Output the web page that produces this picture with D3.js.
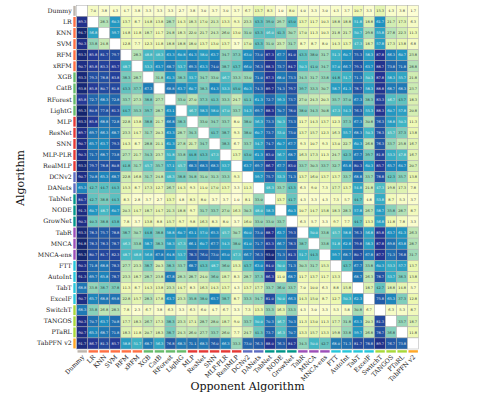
<!DOCTYPE html>
<html>
<head>
<meta charset="utf-8">
<script src="https://cdn.jsdelivr.net/npm/d3@7"></script>
<style>
  body { margin: 0; background: #fff; }
  text { font-family: "DejaVu Serif", serif; }
  .axis path, .axis line { display: none; }
</style>
</head>
<body>
<div id="chart"></div>
<script>
var algorithms = ["Dummy", "LR", "KNN", "SVM", "RFM", "xRFM", "XGB", "CatB", "RForest", "LightG", "MLP",
  "ResNet", "SNN", "MLP-PLR", "RealMLP", "DCNv2", "DANets", "TabNet", "NODE", "GrowNet", "TabR", "MNCA", "MNCA-ens",
  "FTT", "AutoInt", "TabT", "ExcelF", "SwitchT", "TANGOS", "PTaRL", "TabPFN v2"]

var families = ["base", "classic", "classic", "classic", "classic", "classic", "tree", "tree", "tree", "tree", "mlp",
  "mlp", "mlp", "mlp", "mlp", "cross", "cross", "neural", "neural", "neural", "retrieval", "retrieval", "retrieval",
  "attn", "attn", "attn", "attn", "reg", "reg", "reg", "pfn"]

var familyNames = ["base", "classic", "tree", "mlp", "cross", "neural", "retrieval", "attn", "reg", "pfn"]
var familyColors = ["#bdb5ad", "#ff7043", "#66bb6a", "#e53935", "#5c6bc0", "#009688", "#9c4fb8", "#26c6da", "#a8d93a", "#ffa726"]

// one row per algorithm, win rate in % against each opponent
var winRates = [
  [null,7.0,3.8,4.3,4.7,3.8,3.3,3.3,3.3,2.7,3.8, 3.0,3.7,3.0,3.7,6.7,13.7,8.3,1.0,8.0,4.0,3.3,3.0,4.3, 3.7,10.7,3.3,15.3,4.3,3.8,1.7],
  [89.3,null,28.3,60.3,13.7,8.7,14.8,13.8,28.7,14.3,18.3, 17.0,21.3,13.3,9.3,23.3,43.3,39.0,29.7,45.0,13.7,11.7,10.3,18.8, 18.8,51.8,18.8,61.7,21.7,17.3,6.3],
  [94.7,56.8,null,59.7,14.8,11.8,18.7,11.7,24.8,18.3,22.0, 21.7,24.3,26.0,13.0,31.0,43.3,46.0,41.3,30.7,17.0,11.3,10.3,21.8, 21.7,50.7,29.8,55.8,27.8,22.3,11.3],
  [90.3,33.8,24.8,null,12.8,7.7,12.3,11.8,18.8,18.8,18.0, 13.7,13.0,13.7,3.7,17.0,43.3,31.0,23.7,31.7,8.7,8.7,8.0,14.3, 13.7,47.3,18.7,57.8,17.3,13.8,6.8],
  [93.3,85.8,81.7,79.7,null,28.3,48.8,48.3,63.3,60.8,64.3, 58.0,63.7,34.7,37.3,63.0,73.0,87.3,67.7,81.0,43.3,38.0,31.7,51.3, 60.7,75.3,58.3,87.8,66.3,60.7,23.8],
  [90.7,85.8,83.3,85.7,48.7,null,53.3,63.7,68.7,53.7,69.3, 63.3,74.0,38.7,43.7,66.0,76.3,88.3,73.7,84.7,50.3,41.0,34.7,57.0, 66.7,79.3,63.7,88.7,73.8,71.8,28.8],
  [93.3,79.3,78.8,83.8,38.3,28.7,null,31.8,61.3,38.3,53.7, 34.7,33.0,46.7,33.3,33.0,71.0,87.3,68.0,73.3,34.3,31.7,33.8,44.8, 51.7,71.3,50.3,87.8,58.3,55.7,21.8],
  [93.8,85.8,80.7,81.8,43.3,37.7,67.3,null,68.8,63.7,60.7, 38.3,64.3,53.3,45.0,60.3,74.3,89.7,74.3,79.7,39.7,33.3,30.7,58.7, 61.3,78.7,58.3,88.8,68.7,68.3,23.7],
  [85.8,72.7,68.3,72.8,33.7,27.3,38.8,27.7,null,33.0,27.0, 37.3,41.3,33.3,24.7,41.1,61.3,72.7,59.3,73.7,27.0,24.3,20.3,35.7, 37.0,67.3,38.3,83.3,46.7,43.7,18.3],
  [95.3,80.8,77.8,81.3,44.7,35.3,39.7,28.7,63.1,null,46.7, 58.3,58.0,47.0,33.7,54.3,69.7,88.3,70.7,78.0,38.0,34.3,30.8,47.3, 54.3,76.3,55.3,88.3,60.7,57.8,20.8],
  [93.3,85.8,68.8,72.8,22.8,13.8,38.8,21.7,66.8,38.3,null, 33.0,34.7,33.7,8.0,38.0,56.3,73.3,50.3,73.3,11.7,14.3,13.7,12.3, 37.3,67.3,30.8,76.3,58.8,50.3,11.3],
  [89.7,69.7,66.3,68.7,23.3,14.7,31.7,20.3,63.3,28.7,34.3, null,41.7,38.7,9.3,38.0,60.7,73.7,53.0,73.0,13.7,15.7,12.3,16.3, 55.7,68.3,50.3,78.3,45.7,37.3,13.8],
  [90.7,65.7,63.7,79.3,14.3,8.7,28.8,21.1,61.3,27.8,21.7, 34.7,null,38.3,6.7,33.7,54.7,74.7,60.7,67.7,9.3,10.7,9.3,13.0, 22.7,60.3,26.8,76.3,33.7,25.8,16.7],
  [90.3,71.7,68.7,73.8,27.7,21.7,34.3,23.7,51.8,33.8,44.8, 43.3,47.3,null,13.7,43.0,61.3,83.0,56.7,68.7,16.3,17.3,11.3,24.7, 42.3,67.7,39.7,81.8,53.3,47.8,16.7],
  [93.3,79.7,78.8,80.8,41.8,31.7,45.7,35.7,57.1,45.7,68.3, 68.3,68.3,53.7,null,63.7,69.7,86.7,67.7,83.0,33.7,30.3,33.7,32.7, 65.8,80.3,60.3,85.7,65.7,64.7,20.7],
  [90.7,70.8,65.3,68.7,22.8,16.8,31.7,24.8,48.3,38.8,34.8, 31.0,31.3,33.3,9.3,null,59.7,75.7,53.3,71.3,13.7,16.0,13.7,13.7, 33.7,68.8,33.7,78.8,42.3,35.7,13.8],
  [65.3,42.7,44.7,44.3,15.3,8.7,17.3,12.7,26.7,14.3,9.3, 11.0,17.0,13.7,3.3,11.3,null,48.3,33.7,43.3,6.3,9.0,7.3,17.7, 13.7,54.8,21.8,47.3,19.8,17.3,7.8],
  [84.7,42.7,38.8,44.3,8.3,2.8,3.7,2.7,13.7,4.8,8.3, 8.0,3.7,3.7,1.0,8.1,33.0,null,13.7,41.7,4.3,3.3,4.3,7.3, 5.7,44.7,4.8,53.8,8.7,5.3,3.7],
  [91.3,60.7,48.7,60.7,20.3,14.7,18.7,14.7,21.3,18.8,9.7, 31.7,33.7,27.0,16.3,30.3,48.0,58.3,null,60.3,10.7,14.7,15.8,18.3, 28.3,57.8,26.7,58.7,35.8,28.7,8.7],
  [90.3,40.3,38.8,43.8,7.8,3.7,13.8,8.8,15.7,9.7,9.8, 16.3,8.3,8.0,3.7,16.0,33.0,33.0,33.7,null,6.3,5.7,3.3,9.7, 7.7,44.7,13.3,56.8,11.8,7.8,3.3],
  [93.3,78.3,75.7,78.8,38.7,30.7,44.8,38.8,58.8,60.7,63.1, 57.0,65.3,45.7,30.7,60.0,73.0,88.7,63.7,79.3,null,50.0,33.8,45.7, 58.8,76.3,56.8,85.8,63.7,61.3,26.3],
  [94.8,78.3,78.3,78.7,46.3,33.8,58.7,38.3,58.3,47.3,66.1, 60.7,67.7,54.3,38.0,61.0,71.7,83.3,66.7,78.3,38.7,null,33.8,51.8, 62.8,79.8,58.3,87.8,69.8,63.8,28.7],
  [95.3,80.7,81.7,82.3,48.7,48.8,56.8,67.8,64.8,53.7,78.3, 76.0,73.0,65.0,47.3,66.7,76.3,93.0,71.3,81.3,51.7,44.3,null,59.7, 68.7,80.7,67.8,87.7,71.3,76.8,31.7],
  [90.3,71.8,68.8,78.3,27.7,23.3,38.7,20.3,38.3,33.7,68.7, 43.3,48.7,36.0,15.3,43.7,63.0,84.0,50.0,71.3,30.3,31.7,15.3,null, 43.7,67.7,33.8,60.3,53.3,57.7,13.7],
  [91.3,69.7,65.8,78.7,23.3,18.7,28.7,23.8,67.8,28.3,28.7, 24.0,36.0,18.7,8.3,28.7,37.3,86.3,11.0,68.7,11.7,13.7,11.7,13.3, null,68.7,26.3,78.7,53.7,38.3,13.8],
  [68.8,33.8,38.7,37.8,11.3,8.7,14.3,13.8,23.3,14.7,8.3, 16.3,14.3,13.7,4.3,13.7,17.7,33.7,36.0,33.7,7.0,10.0,6.3,8.8, 15.8,null,18.7,42.7,18.8,14.8,5.7],
  [90.7,65.7,68.8,69.8,22.8,15.7,28.3,17.8,63.7,23.3,35.8, 38.0,65.7,38.7,8.7,33.3,34.7,81.0,50.0,66.3,14.3,15.0,8.7,12.7, 50.3,62.3,null,75.8,65.3,37.3,12.8],
  [68.3,35.8,26.8,28.3,7.8,2.3,6.7,3.8,6.3,3.3,6.3, 6.0,4.7,6.7,3.3,7.3,13.3,33.3,16.3,33.3,4.3,3.0,3.3,5.3, 5.8,30.8,6.7,null,6.3,5.3,8.7],
  [90.3,70.7,63.7,70.8,17.7,18.3,26.7,17.3,38.3,23.3,17.1, 28.7,28.0,18.7,9.0,33.7,50.0,70.3,46.7,70.3,11.3,13.0,11.3,17.7, 31.8,63.3,20.3,81.3,null,33.7,18.7],
  [90.7,65.3,68.7,71.8,18.3,11.8,20.7,18.3,38.7,24.3,26.0, 27.7,33.7,26.0,7.7,24.7,41.3,73.7,46.3,70.7,13.3,15.7,13.3,19.8, 33.8,59.7,26.8,78.7,36.8,null,11.8],
  [91.7,86.7,81.3,85.7,58.8,51.7,68.7,56.3,76.8,68.3,71.1, 68.3,76.0,66.3,33.3,73.0,76.3,88.0,76.3,84.7,34.3,50.0,42.7,68.0, 71.3,81.7,78.8,89.7,76.7,73.8,null]
]

var margin = { top: 5.3, right: 59.3, bottom: 50, left: 76.7 }

var width = 478 - margin.left - margin.right,
    height = 399 - margin.top - margin.bottom

var svg = d3.select("#chart").append("svg")
  .attr("width", 478)
  .attr("height", 399)
  .style("display", "block")
  .append("g")
  .attr("transform", "translate(" + margin.left + "," + margin.top + ")")

var xPositionScale = d3.scaleBand().domain(algorithms).range([0, width])
var yPositionScale = d3.scaleBand().domain(algorithms).range([0, height])

// straight segments between the nine brewer colours, the spline version runs too dark
var colorScale = d3.scaleSequential(d3.piecewise(d3.interpolateRgb, d3.schemeYlGnBu[9])).domain([0, 100])
var familyScale = d3.scaleOrdinal().domain(familyNames).range(familyColors)

// flatten the rows into cells
var cells = []
winRates.forEach(function (row, i) {
  row.forEach(function (v, j) {
    cells.push({ row: algorithms[i], col: algorithms[j], value: v })
  })
})

svg.selectAll(".cell")
  .data(cells)
  .enter().append("rect")
  .attr("class", "cell")
  .attr("x", function (d) { return xPositionScale(d.col) })
  .attr("y", function (d) { return yPositionScale(d.row) })
  .attr("width", xPositionScale.bandwidth())
  .attr("height", yPositionScale.bandwidth())
  .attr("fill", function (d) { return d.value === null ? "#fff" : colorScale(d.value) })
  .attr("stroke", "#ababab")
  .attr("stroke-width", 0.5)

svg.selectAll(".val")
  .data(cells.filter(function (d) { return d.value !== null }))
  .enter().append("text")
  .attr("class", "val")
  .attr("x", function (d) { return xPositionScale(d.col) + xPositionScale.bandwidth() / 2 })
  .attr("y", function (d) { return yPositionScale(d.row) + yPositionScale.bandwidth() / 2 })
  .attr("dy", "0.35em")
  .attr("text-anchor", "middle")
  .attr("font-size", 3.5)
  .attr("fill", function (d) { return d.value > 45 ? "#fff" : "#262626" })
  .text(function (d) { return d.value.toFixed(1) })

// family colour strips next to the labels
svg.selectAll(".ystrip")
  .data(algorithms)
  .enter().append("rect")
  .attr("class", "ystrip")
  .attr("x", -3.4)
  .attr("y", function (d) { return yPositionScale(d) + 0.6 })
  .attr("width", 2.4)
  .attr("height", yPositionScale.bandwidth() - 1.2)
  .attr("fill", function (d, i) { return familyScale(families[i]) })

svg.selectAll(".xstrip")
  .data(algorithms)
  .enter().append("rect")
  .attr("class", "xstrip")
  .attr("x", function (d) { return xPositionScale(d) + 0.8 })
  .attr("y", height + 1.2)
  .attr("width", xPositionScale.bandwidth() - 1.6)
  .attr("height", 2.4)
  .attr("fill", function (d, i) { return familyScale(families[i]) })

var yAxis = d3.axisLeft(yPositionScale).tickSize(0).tickPadding(5)
svg.append("g")
  .attr("class", "axis y-axis")
  .call(yAxis)
  .call(function (g) {
    g.selectAll("text").attr("font-size", 6.2).attr("fill", "#222").style("font-family", '"DejaVu Serif", serif')
  })

var xAxis = d3.axisBottom(xPositionScale).tickSize(0).tickPadding(0)
svg.append("g")
  .attr("class", "axis x-axis")
  .attr("transform", "translate(0," + height + ")")
  .call(xAxis)
  .call(function (g) {
    g.selectAll("text")
      .attr("font-size", 6.2)
      .attr("fill", "#222")
      .style("font-family", '"DejaVu Serif", serif')
      .attr("text-anchor", "end")
      .attr("dy", "0.35em")
      .attr("y", 0)
      .attr("transform", "translate(1,7) rotate(-45)")
  })

svg.append("text")
  .attr("x", 247.5 - margin.left)
  .attr("y", 390 - margin.top)
  .attr("text-anchor", "middle")
  .attr("font-size", 11)
  .attr("fill", "#111")
  .text("Opponent Algorithm")

svg.append("text")
  .attr("transform", "translate(" + (24 - margin.left) + "," + (178 - margin.top) + ") rotate(-90)")
  .attr("text-anchor", "middle")
  .attr("font-size", 11)
  .attr("fill", "#111")
  .text("Algorithm")
</script>
</body>
</html>
